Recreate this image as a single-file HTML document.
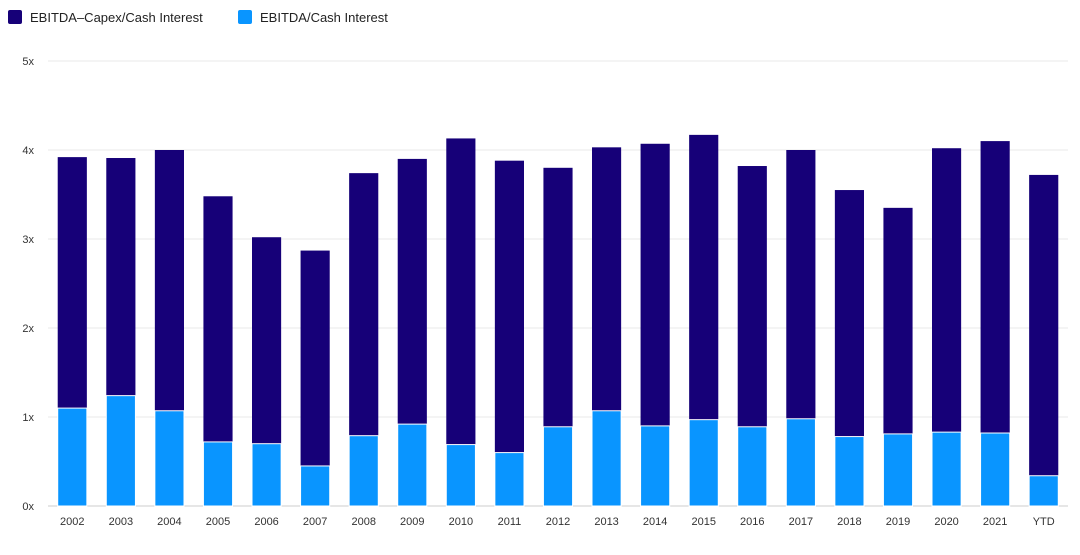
<!DOCTYPE html>
<html><head><meta charset="utf-8"><style>
body{margin:0;background:#fff;font-family:"Liberation Sans",sans-serif;}
svg{display:block}
</style></head><body>
<svg id="chart" width="1080" height="555">
<g>
<g><rect x="8" y="10" width="14" height="14" rx="2" fill="#160078"/><text x="30" y="22" font-size="13" fill="#222">EBITDA–Capex/Cash Interest</text></g>
<g><rect x="238" y="10" width="14" height="14" rx="2" fill="#0995ff"/><text x="260" y="22" font-size="13" fill="#222">EBITDA/Cash Interest</text></g>
</g>
<g id="grid"></g>
<g id="bars"></g>
<g id="xaxis"></g>
</svg>
<script>
const categories=["2002","2003","2004","2005","2006","2007","2008","2009","2010","2011","2012","2013","2014","2015","2016","2017","2018","2019","2020","2021","YTD"];
const capexValues=[3.92,3.91,4.0,3.48,3.02,2.87,3.74,3.90,4.13,3.88,3.80,4.03,4.07,4.17,3.82,4.0,3.55,3.35,4.02,4.10,3.72];
const ebitdaValues=[1.10,1.24,1.07,0.72,0.70,0.45,0.79,0.92,0.69,0.60,0.89,1.07,0.90,0.97,0.89,0.98,0.78,0.81,0.83,0.82,0.34];
const yTicks=[0,1,2,3,4,5];
const yTickLabels=["0x","1x","2x","3x","4x","5x"];
const NS="http://www.w3.org/2000/svg";
const x0=48,x1=1068,yBase=506,yTop=61,yMax=5;
const band=(x1-x0)/categories.length;
const y=v=>yBase-(v/yMax)*(yBase-yTop);
const xc=i=>x0+band*(i+0.5);
function mk(tag,attrs,parent){const e=document.createElementNS(NS,tag);for(const k in attrs)e.setAttribute(k,attrs[k]);parent.appendChild(e);return e;}
const grid=document.getElementById('grid'),bars=document.getElementById('bars'),xa=document.getElementById('xaxis');
yTicks.forEach((t,i)=>{
 const l=mk('line',{x1:x0,x2:x1,y1:y(t),y2:y(t),stroke:i===0?'#ccc':'#e8e8e8','stroke-width':1},grid);
 
 
 const tx=mk('text',{x:34,y:y(t)+4,'font-size':11,fill:'#333','text-anchor':'end'},grid);
 tx.textContent=yTickLabels[i];
 
 
});
const bw=band*0.6;
categories.forEach((c,i)=>{
 const cx=xc(i);
 const d=mk('rect',{x:cx-bw/2,y:y(capexValues[i]),width:bw,height:yBase-y(capexValues[i]),fill:'#160078'},bars);
 
 
 const b=mk('rect',{x:cx-bw/2,y:y(ebitdaValues[i]),width:bw,height:yBase-y(ebitdaValues[i]),fill:'#0995ff',stroke:'#fff','stroke-width':1},bars);
 
 
 const t=mk('text',{x:cx,y:525,'font-size':11,fill:'#333','text-anchor':'middle'},xa);
 t.textContent=c;
 
 
});
</script>
</body></html>
